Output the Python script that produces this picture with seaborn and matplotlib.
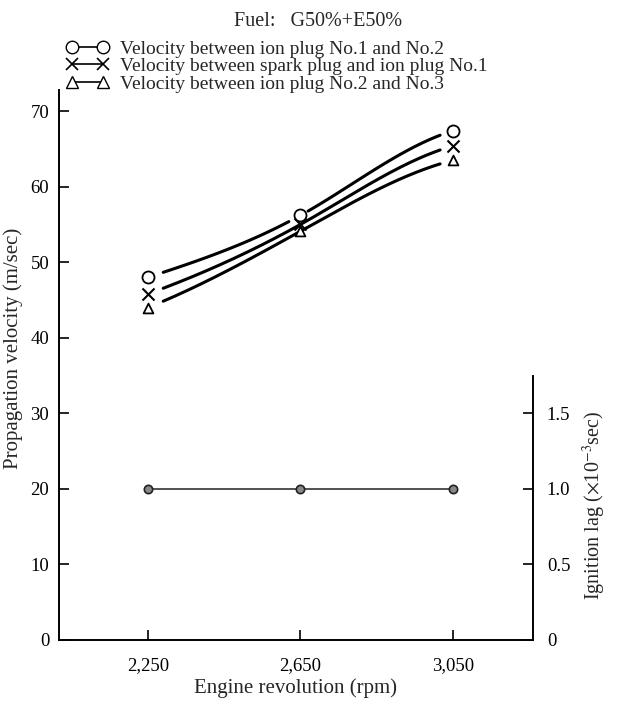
import numpy as np
import pandas as pd
import matplotlib
matplotlib.use("Agg")
import matplotlib.pyplot as plt
import seaborn as sns
from matplotlib.lines import Line2D

# ---- data ----
rpm = [2250, 2650, 3050]
rpm_labels = ["2,250", "2,650", "3,050"]
vel_ion12 = [48.0, 56.2, 67.4]      # circles
vel_spark_ion1 = [45.8, 55.0, 65.4]  # crosses
vel_ion23 = [44.0, 54.1, 63.5]       # triangles
ign_lag = [1.0, 1.0, 1.0]
left_ticks = [0, 10, 20, 30, 40, 50, 60, 70]
right_ticks = [0, 0.5, 1.0, 1.5]
right_tick_labels = ["0", "0.5", "1.0", "1.5"]

sns.set_theme(style="white")
plt.rcParams["font.family"] = ["Liberation Serif", "DejaVu Serif"]
plt.rcParams["mathtext.fontset"] = "stix"

fig = plt.figure(figsize=(6.37, 7.13), dpi=100)
ax = fig.add_axes([59/637, 1-640/713, (533-59)/637, (640-90)/713])
YMAX = 72.8
ax.set_ylim(0, YMAX)
ax.set_xlim(2017, 3260)


def hermite_curve(xs, ys, n=120):
    xs = np.asarray(xs, float); ys = np.asarray(ys, float)
    s = np.diff(ys) / np.diff(xs)
    m = np.array([s[0]*0.8, (s[0]+s[1])/2*1.15, s[1]*0.55])
    out_x, out_y = [], []
    for i in range(len(xs)-1):
        h = xs[i+1]-xs[i]
        t = np.linspace(0, 1, n)
        h00 = 2*t**3-3*t**2+1; h10 = t**3-2*t**2+t
        h01 = -2*t**3+3*t**2; h11 = t**3-t**2
        out_x.append(xs[i]+t*h)
        out_y.append(h00*ys[i]+h10*h*m[i]+h01*ys[i+1]+h11*h*m[i+1])
    return np.concatenate(out_x), np.concatenate(out_y)


series = [(vel_ion12, "o"), (vel_spark_ion1, "x"), (vel_ion23, "^")]
for vals, mk in series:
    cx, cy = hermite_curve(rpm, vals)
    keep = (cx > 2290) & (cx < 3018)
    if mk == "o":
        keep &= ~((cx > 2622) & (cx < 2667))
    df = pd.DataFrame({"x": cx, "y": cy})
    lab = np.cumsum(~keep)
    for g, sub in df[keep].groupby(lab[keep]):
        sns.lineplot(data=sub, x="x", y="y", ax=ax, color="black", lw=2.2,
                     estimator=None, sort=False)
    dfp = pd.DataFrame({"x": rpm, "y": vals})
    if mk == "o":
        sns.scatterplot(data=dfp, x="x", y="y", ax=ax, marker="o", s=75,
                        facecolor="white", edgecolor="black", linewidth=1.3, zorder=5)
    elif mk == "x":
        sns.scatterplot(data=dfp, x="x", y="y", ax=ax, marker="x", s=75,
                        color="black", linewidth=1.5, zorder=5)
    else:
        sns.scatterplot(data=dfp, x="x", y="y", ax=ax, marker="^", s=50,
                        facecolor="white", edgecolor="black", linewidth=1.3, zorder=5)

ax2 = ax.twinx()
ax2.set_ylim(0, YMAX/20)
dfl = pd.DataFrame({"x": rpm, "y": ign_lag})
sns.lineplot(data=dfl, x="x", y="y", ax=ax2, color="#333333", lw=1.2,
             marker="o", markersize=6, markerfacecolor="#888888",
             markeredgecolor="#222222", markeredgewidth=1.2)
ax2.set_xlim(2017, 3260)

for a in (ax, ax2):
    for sp in a.spines.values():
        sp.set_color("black")
        sp.set_linewidth(1.4)
    a.spines["top"].set_visible(False)
ax.spines["right"].set_visible(False)
ax2.spines["left"].set_visible(False)
ax2.spines["bottom"].set_visible(False)
ax2.spines["right"].set_bounds(0, 1.75)

ax.set_xticks(rpm)
ax.set_xticklabels(rpm_labels)
ax.set_yticks(left_ticks)
ax.set_yticklabels([str(t) for t in left_ticks])
ax2.set_yticks(right_ticks)
ax2.set_yticklabels(right_tick_labels)
ax.tick_params(axis="both", direction="in", length=7, width=1.2, labelsize=13.5,
               colors="black", pad=7)
ax.tick_params(axis="x", pad=12)
ax.tick_params(left=True, bottom=True)
ax2.tick_params(axis="y", direction="in", length=7, width=1.2, labelsize=13.5,
                colors="black", pad=10, right=True)

ax.set_xlabel("Engine revolution (rpm)", fontsize=15, labelpad=3)
ax.set_ylabel("Propagation velocity (m/sec)", fontsize=15)
ax.yaxis.set_label_coords(-0.075, (640-348)/550)
ax2.set_ylabel(r"Ignition lag ($\times$10$^{-3}$sec)", fontsize=14.5)
ax2.yaxis.set_label_coords(1.10, (640-505)/550)
ax.grid(False); ax2.grid(False)

fig.text(0.5, 1-21/713, "Fuel:   G50%+E50%", ha="center", va="center", fontsize=14.5)

handles = [
    Line2D([], [], color="black", lw=1.2, marker="o", markersize=9,
           markerfacecolor="white", markeredgecolor="black"),
    Line2D([], [], color="black", lw=1.2, marker="x", markersize=9,
           markeredgecolor="black", markeredgewidth=1.2),
    Line2D([], [], color="black", lw=1.2, marker="^", markersize=9,
           markerfacecolor="white", markeredgecolor="black"),
]
labels = ["Velocity between ion plug No.1 and No.2",
          "Velocity between spark plug and ion plug No.1",
          "Velocity between ion plug No.2 and No.3"]
fig.legend(handles, labels, loc="upper left", bbox_to_anchor=(66/637, 1-40/713),
           frameon=False, numpoints=2, handlelength=2.2, handletextpad=0.6,
           labelspacing=0.0, fontsize=14, borderaxespad=0, borderpad=0)

fig.savefig("out.png", dpi=100)
